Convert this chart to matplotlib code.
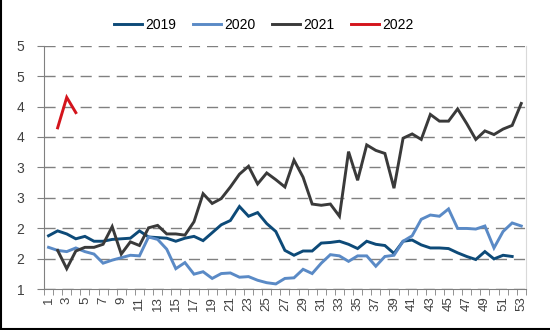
import matplotlib.pyplot as plt
import numpy as np
from matplotlib.lines import Line2D

nan = np.nan
weeks = np.arange(1, 54)

y2019 = [1.88, 1.96, 1.91, 1.83, 1.87, 1.79, 1.79, 1.82, 1.83, 1.84,
         1.96, 1.86, 1.85, 1.84, 1.79, 1.84, 1.87, 1.80, 1.93, 2.06,
         2.13, 2.36, 2.20, 2.26, 2.08, 1.95, 1.64, 1.56, 1.63, 1.63,
         1.76, 1.77, 1.79, 1.74, 1.67, 1.79, 1.74, 1.72, 1.59, 1.79,
         1.81, 1.73, 1.68, 1.68, 1.67, 1.60, 1.54, 1.49, 1.62, 1.50,
         1.56, 1.54, nan]
y2020 = [1.69, 1.64, 1.62, 1.68, 1.62, 1.58, 1.43, 1.48, 1.52, 1.56,
         1.55, 1.86, 1.82, 1.66, 1.34, 1.44, 1.25, 1.29, 1.18, 1.26,
         1.27, 1.20, 1.21, 1.15, 1.11, 1.09, 1.18, 1.19, 1.33, 1.26,
         1.43, 1.57, 1.55, 1.46, 1.55, 1.55, 1.38, 1.54, 1.56, 1.79,
         1.88, 2.15, 2.22, 2.20, 2.32, 2.00, 2.00, 1.99, 2.04, 1.68,
         1.95, 2.09, 2.04]
y2021 = [nan, 1.64, 1.34, 1.63, 1.69, 1.69, 1.74, 2.03, 1.58, 1.78,
         1.72, 2.01, 2.05, 1.91, 1.91, 1.89, 2.11, 2.57, 2.41, 2.49,
         2.68, 2.89, 3.02, 2.73, 2.91, 2.80, 2.68, 3.12, 2.84, 2.40,
         2.38, 2.40, 2.20, 3.26, 2.79, 3.37, 3.28, 3.23, 2.66, 3.48,
         3.55, 3.46, 3.87, 3.76, 3.76, 3.96, 3.72, 3.46, 3.60, 3.54,
         3.63, 3.69, 4.05]
y2022 = [nan, 3.65, 4.15, 3.90] + [nan] * 49

series = {"2019": y2019, "2020": y2020, "2021": y2021, "2022": y2022}
colors = {"2019": "#0d4a78", "2020": "#5a8ac6", "2021": "#3a3a3a", "2022": "#d4141c"}

yticks = [1, 1.5, 2, 2.5, 3, 3.5, 4, 4.5, 5]
ytick_labels = ["1", "2", "2", "3", "3", "4", "4", "5", "5"]

plt.rcParams["font.family"] = ["Liberation Sans", "DejaVu Sans"]

fig = plt.figure(figsize=(5.5, 3.3), dpi=100)
ax = fig.add_axes([0.08, 0.123, 0.876, 0.739])

for name, vals in series.items():
    ax.plot(weeks, vals, color=colors[name], lw=2.1, label=name,
            solid_joinstyle="miter")

ax.set_xlim(0.5, 53.5)
ax.set_ylim(1, 5)
ax.set_yticks(yticks)
ax.set_yticklabels(ytick_labels)
ax.set_xticks(weeks)
ax.set_xticklabels([str(w) if w % 2 == 1 else "" for w in weeks], rotation=90)
ax.set_xticks(np.arange(0.5, 54, 1), minor=True)
ax.tick_params(axis="x", which="major", length=0, pad=5, labelsize=9.5,
               labelcolor="#404040")
ax.tick_params(axis="x", which="minor", length=4, color="#808080")
ax.tick_params(axis="y", length=5, color="#808080", pad=9, labelsize=10,
               labelcolor="#404040")

ax.grid(axis="y", color="#808080", lw=1.0, linestyle=(0, (8, 5)))
for s in ["left", "bottom"]:
    ax.spines[s].set_color("#808080")
ax.spines["right"].set_color("#d9d9d9")
ax.spines["top"].set_visible(False)
ax.set_axisbelow(True)

fig.legend(loc="center", bbox_to_anchor=(0.48, 0.925), ncol=4, frameon=False,
           fontsize=10, handlelength=2.0, handletextpad=0.25, columnspacing=1.2)

# thin black frame lines on left and bottom of the image
fig.add_artist(Line2D([0.001, 0.001], [0, 1], color="black", lw=1.5,
                      transform=fig.transFigure))
fig.add_artist(Line2D([0, 1], [0.004, 0.004], color="black", lw=1.5,
                      transform=fig.transFigure))

fig.savefig("out.png", dpi=100)
